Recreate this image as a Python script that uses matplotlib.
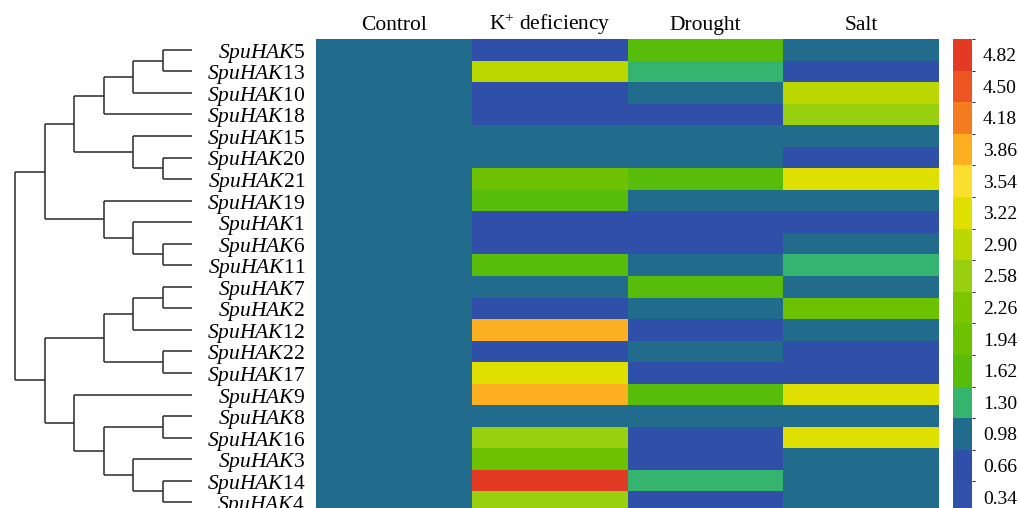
import numpy as np
import matplotlib
matplotlib.use('Agg')
import matplotlib.pyplot as plt
from matplotlib.colors import ListedColormap, BoundaryNorm
from matplotlib.cm import ScalarMappable

plt.rcParams['font.family'] = ['Liberation Serif', 'DejaVu Serif']
plt.rcParams['mathtext.fontset'] = 'custom'
plt.rcParams['mathtext.rm'] = 'Liberation Serif'
plt.rcParams['mathtext.it'] = 'Liberation Serif:italic'

# treatments (columns of the heatmap)
conditions = ['Control', r'K$^{+}$ deficiency', 'Drought', 'Salt']

# clustering tree: (left, right, height), leaves are gene numbers
tree = (
    ((((((5, 13, 1), 10, 2), 18, 3), (15, (20, 21, 1), 2), 4),
      (19, (1, (6, 11, 1), 2), 3), 5),
     ((((7, 2, 1), 12, 2), (22, 17, 1), 3),
      (9, ((8, 16, 1), (3, (14, 4, 1), 2), 3), 4), 5), 6)
)

# relative expression, rows in tree order (Control, K+, Drought, Salt)
expr = {
    5:  [0.98, 0.66, 1.62, 0.98],
    13: [0.98, 2.90, 1.30, 0.66],
    10: [0.98, 0.66, 0.98, 2.90],
    18: [0.98, 0.66, 0.66, 2.58],
    15: [0.98, 0.98, 0.98, 0.98],
    20: [0.98, 0.98, 0.98, 0.66],
    21: [0.98, 1.94, 1.62, 3.22],
    19: [0.98, 1.62, 0.98, 0.98],
    1:  [0.98, 0.66, 0.66, 0.66],
    6:  [0.98, 0.66, 0.66, 0.98],
    11: [0.98, 1.62, 0.98, 1.30],
    7:  [0.98, 0.98, 1.62, 0.98],
    2:  [0.98, 0.66, 0.98, 1.94],
    12: [0.98, 3.86, 0.66, 0.98],
    22: [0.98, 0.66, 0.98, 0.66],
    17: [0.98, 3.22, 0.66, 0.66],
    9:  [0.98, 3.86, 1.62, 3.22],
    8:  [0.98, 0.98, 0.98, 0.98],
    16: [0.98, 2.58, 0.66, 3.22],
    3:  [0.98, 1.94, 0.66, 0.98],
    14: [0.98, 4.82, 1.30, 0.98],
    4:  [0.98, 2.58, 0.66, 0.98],
}

# colour scale levels and their colours (low -> high)
levels = [0.34, 0.66, 0.98, 1.30, 1.62, 1.94, 2.26, 2.58,
          2.90, 3.22, 3.54, 3.86, 4.18, 4.50, 4.82]
level_colors = ['#3050a9', '#2f4fa8', '#216b8c', '#34b46e', '#58bc0a',
                '#6cc200', '#7cc600', '#98cf0e', '#bad700', '#dfe000',
                '#fbdf2e', '#fcb021', '#f47c1e', '#ec5522', '#e33a24']

cmap = ListedColormap(level_colors)
bounds = [levels[0] - 0.16] + [v + 0.16 for v in levels]
norm = BoundaryNorm(bounds, cmap.N)


def leaves(node):
    if isinstance(node, int):
        return [node]
    return leaves(node[0]) + leaves(node[1])


order = leaves(tree)
pos = {g: i + 0.5 for i, g in enumerate(order)}
data = np.array([expr[g] for g in order])

W, H = 1019, 508


def box(x0, y0, x1, y1):
    return [x0 / W, 1 - y1 / H, (x1 - x0) / W, (y1 - y0) / H]


fig = plt.figure(figsize=(W / 100, H / 100), dpi=100)

# heatmap
ax = fig.add_axes(box(316, 39, 939, 513))
ax.pcolormesh(data, cmap=cmap, norm=norm)
ax.set_xlim(0, 4)
ax.set_ylim(len(order), 0)
ax.xaxis.tick_top()
ax.set_xticks(np.arange(4) + 0.5)
ax.set_xticklabels(conditions, fontsize=15.5, va='baseline')
ax.set_yticks(np.arange(len(order)) + 0.5)
ax.set_yticklabels([r'$\mathit{SpuHAK}$%d' % g for g in order], fontsize=15.5)
ax.tick_params(length=0)
ax.tick_params(axis='y', pad=8)
ax.tick_params(axis='x', pad=6.5)
for s in ax.spines.values():
    s.set_visible(False)

# dendrogram
dax = fig.add_axes(box(15, 39, 192, 513))
dax.set_xlim(6, 0)
dax.set_ylim(len(order), 0)
dax.axis('off')


def draw(node):
    if isinstance(node, int):
        return pos[node], 0
    y1, h1 = draw(node[0])
    y2, h2 = draw(node[1])
    h = node[2]
    kw = dict(color='#2a2a2a', lw=1.1, clip_on=False, solid_capstyle='butt')
    dax.plot([h1, h], [y1, y1], **kw)
    dax.plot([h2, h], [y2, y2], **kw)
    dax.plot([h, h], [y1, y2], **kw)
    return (y1 + y2) / 2, h


draw(tree)

# colour bar
cax = fig.add_axes(box(953, 39, 972, 513))
cb = fig.colorbar(ScalarMappable(norm=norm, cmap=cmap), cax=cax, ticks=levels)
cb.ax.set_yticklabels(['%.2f' % v for v in levels], fontsize=14)
cb.ax.tick_params(length=0, pad=8)
cb.outline.set_visible(False)

plt.savefig('out.png', dpi=100)
plt.close()
